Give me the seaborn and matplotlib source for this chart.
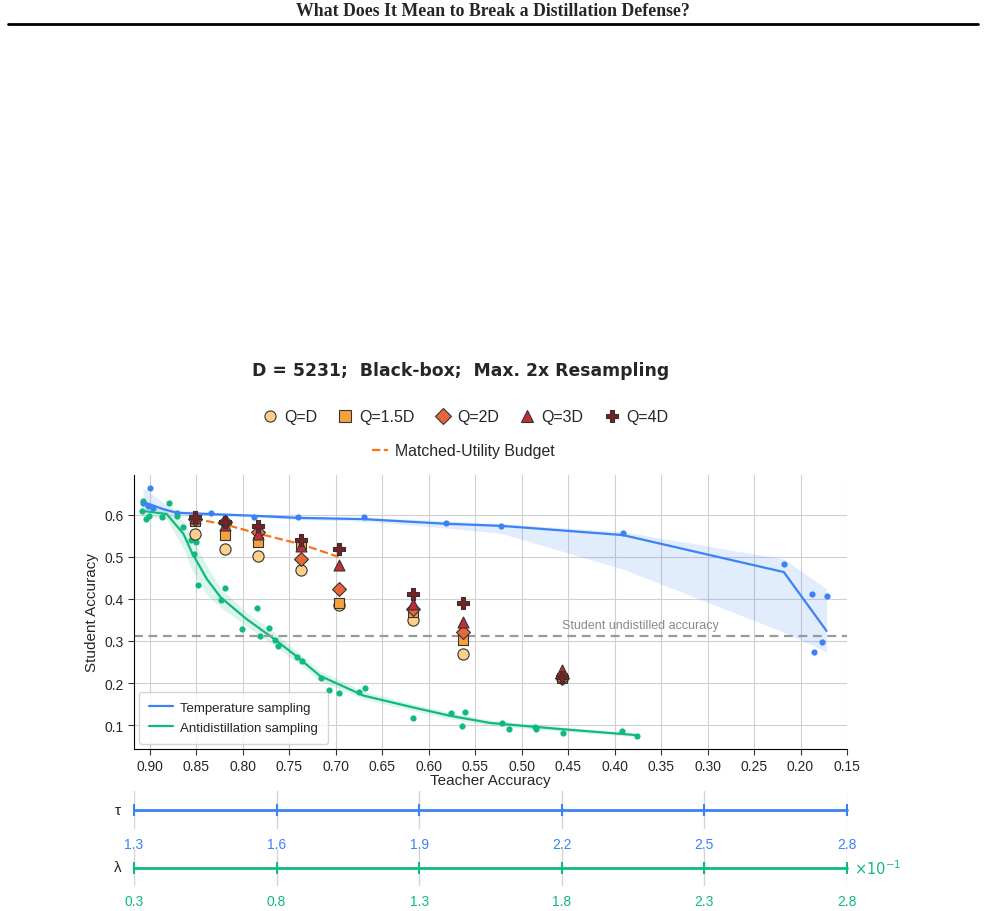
import numpy as np
import pandas as pd
import matplotlib
matplotlib.use("Agg")
import matplotlib.pyplot as plt
from matplotlib.lines import Line2D
import seaborn as sns

# Temperature sampling: individual runs
temp_teacher = [0.900, 0.9075, 0.902, 0.897, 0.871, 0.834, 0.788, 0.741, 0.670, 0.582,
                0.522, 0.391, 0.218, 0.188, 0.172, 0.177, 0.186]
temp_student = [0.664, 0.629, 0.621, 0.617, 0.605, 0.605, 0.595, 0.595, 0.595, 0.581,
                0.574, 0.557, 0.483, 0.412, 0.407, 0.298, 0.274]
# Temperature sampling: mean line and band
temp_line_x = [0.9075, 0.886, 0.871, 0.834, 0.788, 0.741, 0.670, 0.582, 0.522, 0.391, 0.218, 0.172]
temp_line_y = [0.631, 0.614, 0.605, 0.602, 0.598, 0.593, 0.590, 0.579, 0.574, 0.552, 0.464, 0.324]
temp_band_lo = [0.620, 0.606, 0.600, 0.599, 0.595, 0.589, 0.585, 0.569, 0.556, 0.471, 0.321, 0.274]
temp_band_hi = [0.664, 0.630, 0.611, 0.606, 0.601, 0.597, 0.594, 0.586, 0.579, 0.560, 0.495, 0.424]

# Antidistillation sampling: individual runs
anti_teacher = [0.907, 0.909, 0.904, 0.901, 0.887, 0.880, 0.871, 0.865, 0.856, 0.850,
                0.853, 0.848, 0.824, 0.819, 0.801, 0.785, 0.782, 0.772, 0.766, 0.762,
                0.742, 0.736, 0.716, 0.707, 0.697, 0.675, 0.669, 0.617, 0.576, 0.561,
                0.564, 0.521, 0.514, 0.486, 0.485, 0.456, 0.392, 0.376]
anti_student = [0.632, 0.610, 0.590, 0.598, 0.595, 0.628, 0.598, 0.571, 0.540, 0.535,
                0.507, 0.433, 0.398, 0.425, 0.329, 0.378, 0.311, 0.331, 0.303, 0.289,
                0.261, 0.252, 0.211, 0.183, 0.176, 0.178, 0.187, 0.116, 0.128, 0.130,
                0.098, 0.105, 0.090, 0.096, 0.090, 0.081, 0.085, 0.074]
anti_line_x = [0.909, 0.882, 0.864, 0.855, 0.839, 0.824, 0.796, 0.767, 0.742, 0.717,
               0.670, 0.617, 0.577, 0.534, 0.456, 0.376]
anti_line_y = [0.610, 0.602, 0.555, 0.511, 0.448, 0.404, 0.352, 0.306, 0.263, 0.217,
               0.170, 0.142, 0.122, 0.105, 0.090, 0.076]
anti_band_lo = [0.598, 0.590, 0.520, 0.470, 0.410, 0.380, 0.335, 0.290, 0.250, 0.205,
                0.162, 0.134, 0.115, 0.099, 0.085, 0.072]
anti_band_hi = [0.622, 0.612, 0.585, 0.545, 0.480, 0.425, 0.368, 0.322, 0.276, 0.229,
                0.180, 0.150, 0.130, 0.112, 0.095, 0.080]

# Query budget runs
q_teacher = [0.852, 0.819, 0.784, 0.737, 0.697, 0.617, 0.563, 0.457]
q_student = {
    "Q=D":   [0.555, 0.519, 0.502, 0.468, 0.385, 0.351, 0.269, 0.212],
    "Q=1.5D": [0.585, 0.552, 0.535, 0.530, 0.390, 0.370, 0.302, 0.212],
    "Q=2D":  [0.590, 0.583, 0.560, 0.495, 0.424, 0.375, 0.322, 0.211],
    "Q=3D":  [0.592, 0.577, 0.555, 0.527, 0.482, 0.388, 0.346, 0.232],
    "Q=4D":  [0.594, 0.582, 0.573, 0.541, 0.519, 0.411, 0.390, 0.215],
}
budget_x = [0.852, 0.819, 0.784, 0.737, 0.697]
budget_y = [0.591, 0.577, 0.556, 0.530, 0.500]

undistilled_acc = 0.312
tau_ticks = [1.3, 1.6, 1.9, 2.2, 2.5, 2.8]
lam_ticks = [0.3, 0.8, 1.3, 1.8, 2.3, 2.8]

blue = "#3B82F6"
green = "#10B981"
orange = "#F97316"
q_colors = ["#FDD08A", "#F7A03C", "#E8663E", "#C62B38", "#7A1F24"]
q_markers = ["o", "s", "D", "^", "P"]
q_sizes = [65, 58, 50, 62, 72]

sns.set_style("ticks", {"axes.grid": True, "grid.color": "#d0d0d0"})
plt.rcParams["font.family"] = ["Liberation Sans", "DejaVu Sans"]

fig = plt.figure(figsize=(9.85, 9.12), dpi=100)
W, H = 985, 912

# header
fig.text(0.5, 1 - 12 / H, "What Does It Mean to Break a Distillation Defense?",
         ha="center", va="center", fontsize=12.8, fontweight="bold",
         family="Liberation Serif")
fig.add_artist(Line2D([8 / W, 978 / W], [1 - 25 / H] * 2, color="black", lw=2))

ax = fig.add_axes([134 / W, 1 - 750 / H, 713 / W, 274 / H])

ax.fill_between(temp_line_x, temp_band_lo, temp_band_hi, color=blue, alpha=0.15, lw=0)
ax.fill_between(anti_line_x, anti_band_lo, anti_band_hi, color=green, alpha=0.15, lw=0)
sns.lineplot(x=temp_line_x, y=temp_line_y, color=blue, lw=1.6, sort=False, ax=ax)
sns.lineplot(x=anti_line_x, y=anti_line_y, color=green, lw=1.6, sort=False, ax=ax)
sns.scatterplot(x=temp_teacher, y=temp_student, color=blue, s=20, linewidth=0, ax=ax)
sns.scatterplot(x=anti_teacher, y=anti_student, color=green, s=20, linewidth=0, ax=ax)

ax.axhline(undistilled_acc, color="#9a9a9a", ls="--", lw=1.6, dashes=(4, 2.5))
ax.text(0.457, undistilled_acc + 0.012, "Student undistilled accuracy",
        color="#8a8a8a", fontsize=9, ha="left", va="bottom")

sns.lineplot(x=budget_x, y=budget_y, color=orange, lw=1.6, ls="--", sort=False, ax=ax)

q_handles = []
for (label, ys), c, m, s in zip(q_student.items(), q_colors, q_markers, q_sizes):
    sns.scatterplot(x=q_teacher, y=ys, color=c, marker=m, s=s, edgecolor="#333333",
                    linewidth=0.8, zorder=5, ax=ax)
    q_handles.append(Line2D([], [], ls="", marker=m, markerfacecolor=c,
                            markeredgecolor="#333333", markeredgewidth=0.8,
                            markersize=8, label=label))

ax.set_xlim(0.9172, 0.15)
ax.set_ylim(0.043, 0.695)
ax.set_xticks(np.arange(0.90, 0.149, -0.05))
ax.set_xticklabels([f"{v:.2f}" for v in np.arange(0.90, 0.149, -0.05)])
ax.set_yticks([0.1, 0.2, 0.3, 0.4, 0.5, 0.6])
ax.tick_params(labelsize=10, length=4, color="#333333")
ax.set_xlabel("Teacher Accuracy", fontsize=11, labelpad=0)
ax.set_ylabel("Student Accuracy", fontsize=11)
for sp in ["left", "bottom"]:
    ax.spines[sp].set_color("black")
sns.despine(ax=ax)

leg_in = ax.legend(handles=[Line2D([], [], color=blue, lw=1.6, label="Temperature sampling"),
                            Line2D([], [], color=green, lw=1.6, label="Antidistillation sampling")],
                   loc="lower left", fontsize=9.5, frameon=True, borderaxespad=0.4,
                   borderpad=0.75, labelspacing=0.6, handlelength=1.8, handletextpad=0.55)
leg_in.get_frame().set_edgecolor("#cccccc")

# title and top legends
fig.text(461 / W, 1 - 371 / H, "D = 5231;  Black-box;  Max. 2x Resampling",
         ha="center", va="center", fontsize=12.4, fontweight="bold",
         family="DejaVu Sans", color="#262626")
fig.legend(handles=q_handles, loc="center", bbox_to_anchor=(465 / W, 1 - 418 / H),
           ncol=5, frameon=False, fontsize=11.5, handlelength=1.0, handletextpad=0.4,
           columnspacing=1.25)
fig.legend(handles=[Line2D([], [], color=orange, lw=1.6, ls="--", label="Matched-Utility Budget")],
           loc="center", bbox_to_anchor=(463 / W, 1 - 452 / H), frameon=False,
           fontsize=11.4, handlelength=1.0, handletextpad=0.45)

# parameter axes below
def param_axis(top_px, bot_px, ticks, color, sym):
    pax = fig.add_axes([134 / W, 1 - bot_px / H, 713 / W, (bot_px - top_px) / H])
    pax.patch.set_alpha(0)
    sns.lineplot(x=ticks, y=[0] * len(ticks), color=color, lw=2, marker="|",
                 markersize=9, markeredgewidth=1.5, markeredgecolor=color,
                 clip_on=False, ax=pax)
    pax.set_xlim(ticks[0], ticks[-1])
    pax.set_ylim(-1, 1)
    pax.set_xticks(ticks)
    pax.set_xticklabels([f"{t:.1f}" for t in ticks])
    pax.set_yticks([])
    pax.grid(axis="x", color="#d5d5d5", lw=1)
    pax.grid(axis="y", visible=False)
    pax.tick_params(axis="x", length=0, labelsize=10, labelcolor=color, pad=6)
    for sp in pax.spines.values():
        sp.set_visible(False)
    pax.text(-16 / 713, 0.5, sym, transform=pax.transAxes, ha="center", va="center",
             fontsize=11)
    return pax

param_axis(792, 830, tau_ticks, blue, "τ")
lam_ax = param_axis(850, 887, lam_ticks, green, "λ")
lam_ax.text(1.01, 0.5, r"$\times10^{-1}$", transform=lam_ax.transAxes, color=green,
            fontsize=10.5, ha="left", va="center")

fig.savefig("out.png", dpi=100)
